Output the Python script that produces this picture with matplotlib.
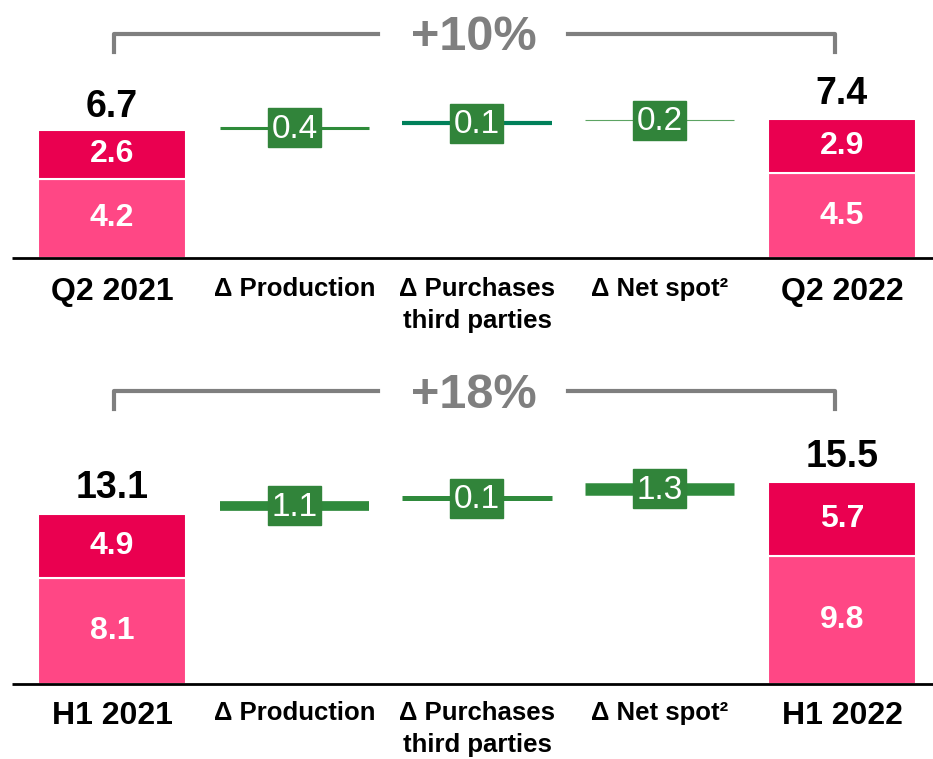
import matplotlib
matplotlib.use('Agg')
import matplotlib.pyplot as plt
from matplotlib import font_manager
from matplotlib.patches import Rectangle

# data
labels_q = ['Q2 2021', '\u0394 Production', '\u0394 Purchases\nthird parties', '\u0394 Net spot\u00b2', 'Q2 2022']
low_q = [4.2, 4.5]
high_q = [2.6, 2.9]
totals_q = [6.7, 7.4]
deltas_q = [0.4, 0.1, 0.2]
growth_q = '+10%'

labels_h = ['H1 2021', '\u0394 Production', '\u0394 Purchases\nthird parties', '\u0394 Net spot\u00b2', 'H1 2022']
low_h = [8.1, 9.8]
high_h = [4.9, 5.7]
totals_h = [13.1, 15.5]
deltas_h = [1.1, 0.1, 1.3]
growth_h = '+18%'

names = {f.name for f in font_manager.fontManager.ttflist}
font = 'Liberation Sans' if 'Liberation Sans' in names else 'DejaVu Sans'
plt.rcParams['font.family'] = [font, 'DejaVu Sans']

DARK = '#EA0050'
LIGHT = '#FF4785'
BOX = '#31843A'
GREY = '#7F7F7F'

W, H = 933, 759
fig = plt.figure(figsize=(W / 100, H / 100), dpi=100)
STEP = 182.5  # px between category centres
X0 = 112      # px of first category


def make_axes(top_px, bot_px, base_px, ppu):
    ax = fig.add_axes([0, 1 - bot_px / H, 1, (bot_px - top_px) / H])
    ax.set_xlim(-X0 / STEP, (W - X0) / STEP)
    ax.set_ylim(-(bot_px - base_px) / ppu, (base_px - top_px) / ppu)
    ax.axis('off')
    return ax


def draw_panel(ax, labels, low, high, totals, deltas, growth, base_px, ppu,
               line_widths, line_colors, label_top_px, bracket_px):
    val = lambda p: (base_px - p) / ppu
    ends = [0, 4]
    ax.bar(ends, low, width=0.816, color=LIGHT, edgecolor='white', linewidth=1.5)
    ax.bar(ends, high, bottom=low, width=0.816, color=DARK, edgecolor='white', linewidth=1.5)
    for x, l, h, t in zip(ends, low, high, totals):
        ax.text(x, l / 2, f'{l:.1f}', ha='center', va='center', color='white',
                fontsize=23, fontweight='bold')
        ax.text(x, l + h / 2, f'{h:.1f}', ha='center', va='center', color='white',
                fontsize=23, fontweight='bold')
        ax.annotate(f'{t:.1f}', (x, t), xytext=(0, 5), textcoords='offset points',
                    ha='center', va='bottom', fontsize=27, fontweight='bold')

    # floating delta steps
    start = totals[0]
    for i, d in enumerate(deltas):
        x = i + 1
        level = start + d / 2
        ax.plot([x - 0.41, x + 0.41], [level, level], color=line_colors[i],
                lw=line_widths[i], solid_capstyle='butt')
        bw, bh = 53 / STEP, 39 / ppu
        ax.add_patch(Rectangle((x - bw / 2, level - bh / 2), bw, bh, color=BOX, zorder=3))
        ax.text(x, level - 1.5 / ppu, f'{d:.1f}', ha='center', va='center', color='white',
                fontsize=24, zorder=4)
        start += d

    # baseline
    ax.plot([(12 - X0) / STEP, (W - X0) / STEP], [0, 0], color='black', lw=2,
            solid_capstyle='butt')

    # category labels
    for i, lab in enumerate(labels):
        end = i in (0, 4)
        ax.text(i, val(label_top_px), lab, ha='center', va='top',
                fontsize=23 if end else 18.5, fontweight='bold', linespacing=1.4)

    # growth bracket
    yb, yv = val(bracket_px), val(bracket_px + 18)
    ax.plot([0.01, 0.01, 1.46], [yv, yb, yb], color=GREY, lw=3)
    ax.plot([2.5, 3.96, 3.96], [yb, yb, yv], color=GREY, lw=3)
    ax.text(1.98, val(bracket_px + 4), growth, ha='center', va='center', color=GREY,
            fontsize=35, fontweight='bold')


ax1 = make_axes(0, 379, 258, 18.85)
draw_panel(ax1, labels_q, low_q, high_q, totals_q, deltas_q, growth_q, 258, 18.85,
           [2.2, 3.0, 0.8], ['#2E8B3A', '#00805A', '#5DA463'], 277, 34)

ax2 = make_axes(379, 759, 684, 13.05)
draw_panel(ax2, labels_h, low_h, high_h, totals_h, deltas_h, growth_h, 684, 13.05,
           [7, 3.6, 9], ['#2F8A3C', '#2F8A3C', '#2F8A3C'], 701, 391)

fig.savefig('out.png', dpi=100)
